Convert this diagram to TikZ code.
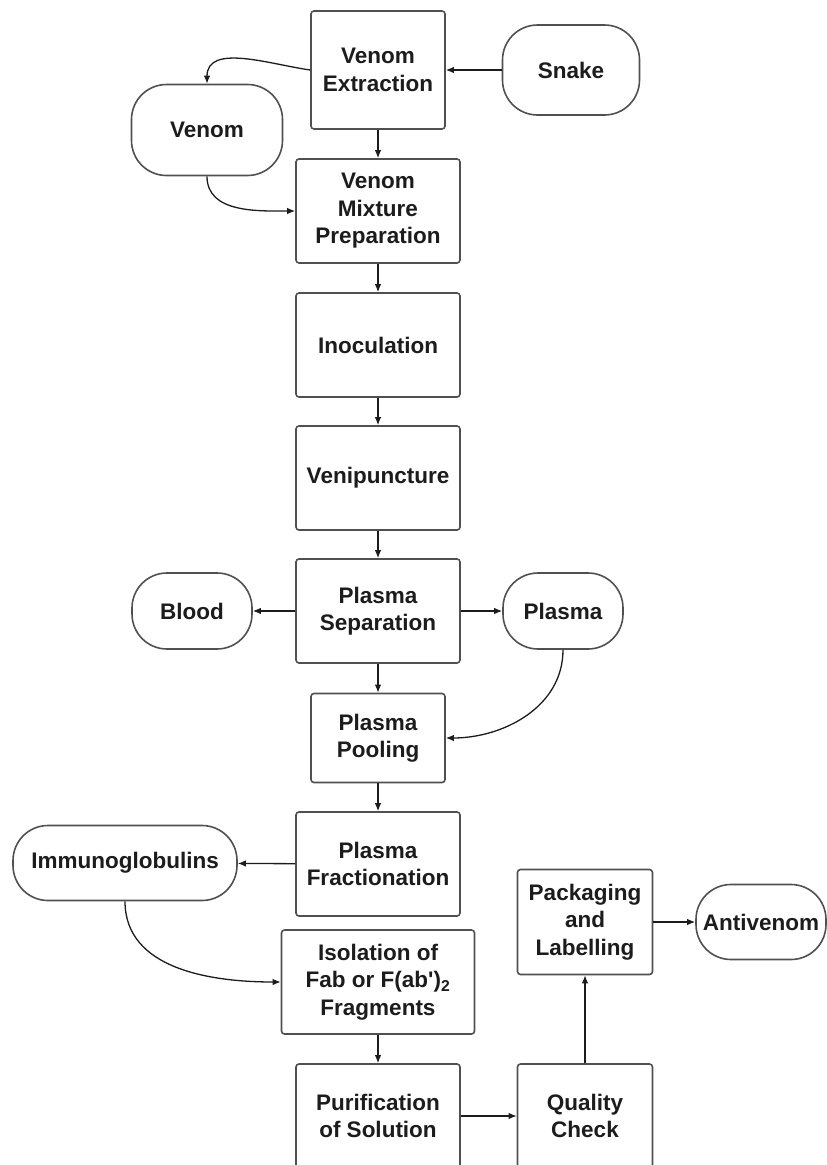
\documentclass[tikz,border=0pt]{standalone}
\usepackage{fontspec}
\setmainfont{Liberation Sans}
\usetikzlibrary{arrows.meta,positioning}
\definecolor{Ink}{HTML}{1C1C1C}
\definecolor{Edge}{HTML}{505050}
\tikzset{
  stepbx/.style={rectangle,draw=Edge,line width=1.6pt,rounded corners=3pt,align=center,text=Ink,inner sep=2pt,
    font=\fontsize{22.5}{27.5}\selectfont\bfseries},
  term/.style={stepbx,rounded corners=35pt},
  flow/.style={draw=Ink,line width=1.3pt,-{Latex[length=8pt,width=6.5pt]}},
}
\begin{document}
\begin{tikzpicture}[x=1pt,y=-1pt]
\path[use as bounding box] (0,0) rectangle (827,1165);
% -venom collection-
\node[stepbx,minimum width=134,minimum height=118] (ext) at (378,70) {Venom\\Extraction};
\node[term,minimum width=137,minimum height=90] (snake) at (571,70) {Snake};
\node[term,minimum width=151,minimum height=91] (venom) at (207,130) {Venom};
\node[stepbx,minimum width=164,minimum height=104] (mix) at (378,211) {Venom\\Mixture\\Preparation};
\draw[flow] (snake) -- (ext);
\draw[flow] (ext.west) to[out=172,in=90] (venom.north);
\draw[flow] (ext) -- (mix);
\draw[flow] (venom.south) to[out=270,in=180] (mix.west);
% -immunisation-
\node[stepbx,minimum width=164,minimum height=104] (inoc) at (378,345) {Inoculation};
\node[stepbx,minimum width=164,minimum height=104] (veni) at (378,478) {Venipuncture};
\draw[flow] (mix) -- (inoc);
\draw[flow] (inoc) -- (veni);
% -plasma-
\node[stepbx,minimum width=164,minimum height=104] (sep) at (378,611) {Plasma\\Separation};
\node[term,minimum width=120,minimum height=76] (blood) at (192,611) {Blood};
\node[term,minimum width=120,minimum height=76] (plasma) at (563,611) {Plasma};
\node[stepbx,minimum width=134,minimum height=89] (pool) at (378,738) {Plasma\\Pooling};
\draw[flow] (veni) -- (sep);
\draw[flow] (sep) -- (blood);
\draw[flow] (sep) -- (plasma);
\draw[flow] (sep) -- (pool);
\draw[flow] (plasma.south) to[out=270,in=0] (pool.east);
% -fractions-
\node[stepbx,minimum width=164,minimum height=104] (frac) at (378,864) {Plasma\\Fractionation};
\node[term,minimum width=224,minimum height=75] (immu) at (125,863) {Immunoglobulins};
\node[stepbx,minimum width=193,minimum height=104] (iso) at (378,982) {Isolation of\\Fab or F(ab\textquotesingle)\textsubscript{2}\\Fragments};
\draw[flow] (pool) -- (frac);
\draw[flow] (frac) -- (immu);
\draw[flow] (immu.south) to[out=270,in=180] (iso.west);
% -finishing-
\node[stepbx,minimum width=164,minimum height=104] (puri) at (378,1116) {Purification\\of Solution};
\node[stepbx,minimum width=135,minimum height=104] (qual) at (585,1116) {Quality\\Check};
\node[stepbx,minimum width=135,minimum height=105] (pack) at (585,922) {Packaging\\and\\Labelling};
\node[term,minimum width=130,minimum height=75] (anti) at (761,922) {Antivenom};
\draw[flow] (iso) -- (puri);
\draw[flow] (puri) -- (qual);
\draw[flow] (qual) -- (pack);
\draw[flow] (pack) -- (anti);
\end{tikzpicture}
\end{document}
